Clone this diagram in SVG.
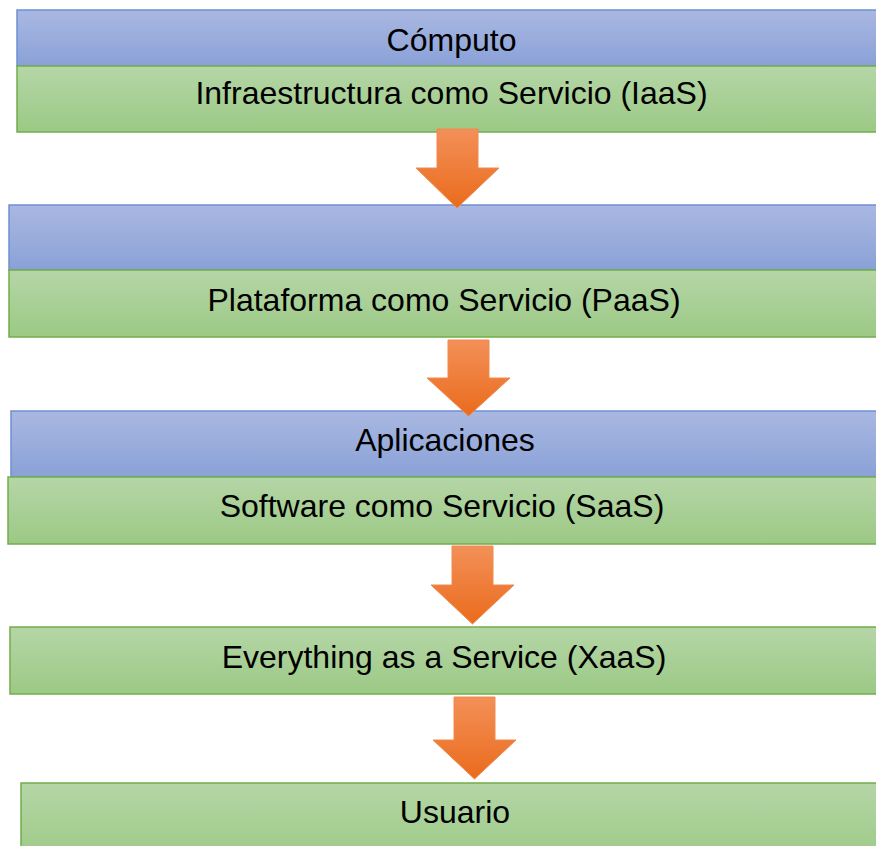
<svg xmlns="http://www.w3.org/2000/svg" width="876" height="846" viewBox="0 0 876 846">
<defs>
<linearGradient id="gBlue" x1="0" y1="0" x2="0" y2="1">
<stop offset="0" stop-color="#a9b8e1"/>
<stop offset="1" stop-color="#8aa1d7"/>
</linearGradient>
<linearGradient id="gGreen" x1="0" y1="0" x2="0" y2="1">
<stop offset="0" stop-color="#b5d6a7"/>
<stop offset="1" stop-color="#9cc985"/>
</linearGradient>
<linearGradient id="gOrange" x1="0" y1="0" x2="0" y2="1">
<stop offset="0" stop-color="#f39058"/>
<stop offset="1" stop-color="#ea6b1c"/>
</linearGradient>
<style>
.blue{fill:url(#gBlue);stroke:#6f8fd3;stroke-width:1.5}
.green{fill:url(#gGreen);stroke:#72ad4b;stroke-width:1.5}
.arrow{fill:url(#gOrange);stroke:#f08a4e;stroke-width:1}
text{font-family:"Liberation Sans",Arial,sans-serif;font-size:32px;fill:#000;text-anchor:middle}
</style>
</defs>
<g id="computo">
<rect class="blue" x="17" y="10" width="872" height="56"/>
<text x="451.5" y="51">Cómputo</text>
</g>
<g id="iaas">
<rect class="green" x="17" y="66" width="872" height="66"/>
<text x="451.5" y="104">Infraestructura como Servicio (IaaS)</text>
</g>
<g id="plataforma-blank">
<rect class="blue" x="9" y="205" width="872" height="65"/>
</g>
<g id="paas">
<rect class="green" x="9" y="270" width="872" height="67"/>
<text x="444" y="311">Plataforma como Servicio (PaaS)</text>
</g>
<g id="aplicaciones">
<rect class="blue" x="11" y="411" width="872" height="66"/>
<text x="445" y="451">Aplicaciones</text>
</g>
<g id="saas">
<rect class="green" x="8" y="477" width="872" height="67"/>
<text x="442" y="517">Software como Servicio (SaaS)</text>
</g>
<g id="xaas">
<rect class="green" x="10" y="627" width="872" height="67"/>
<text x="444" y="668">Everything as a Service (XaaS)</text>
</g>
<g id="usuario">
<rect class="green" x="21" y="783" width="872" height="80"/>
<text x="455" y="823">Usuario</text>
</g>
<g id="connectors">
<polygon class="arrow" points="437,129 478,129 478,168 499,168 457,208 416,168 437,168"/>
<polygon class="arrow" points="448,340 489,340 489,378 510,378 468.5,416 427,378 448,378"/>
<polygon class="arrow" points="452,546 493,546 493,585 514,585 472.5,624 431,585 452,585"/>
<polygon class="arrow" points="454,697 495,697 495,740 516,740 474.5,779 433,740 454,740"/>
</g>
</svg>
